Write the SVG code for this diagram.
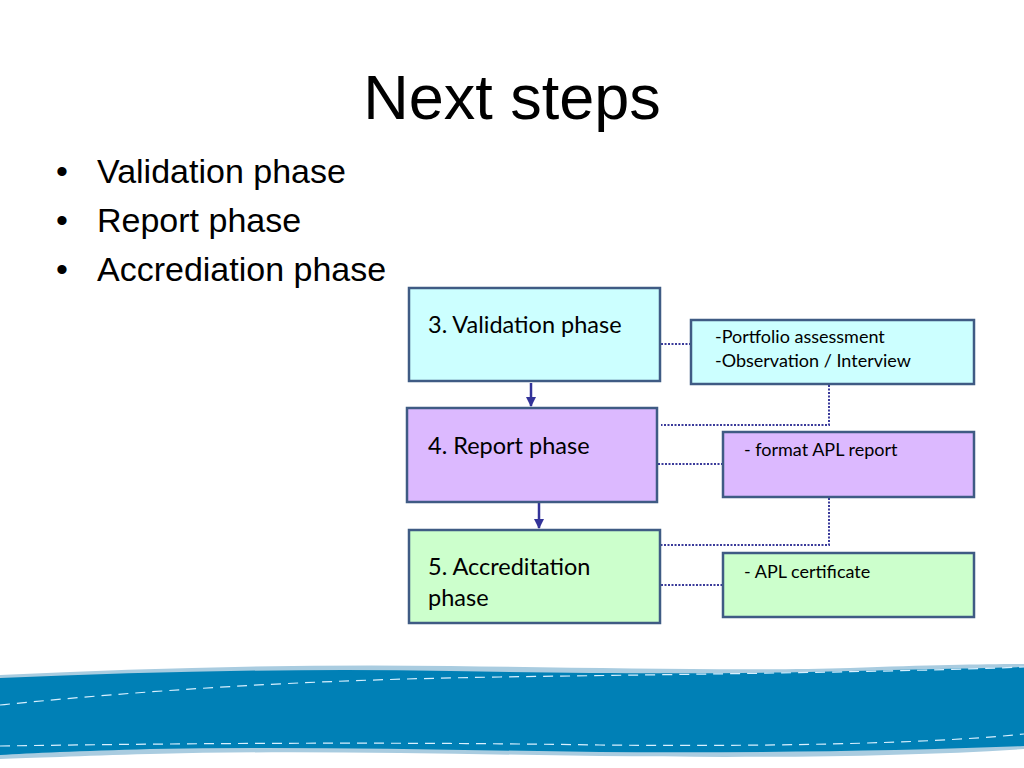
<svg xmlns="http://www.w3.org/2000/svg" width="1024" height="768" viewBox="0 0 1024 768">
<defs>
<style>
.box{stroke:#3f5b84;stroke-width:2.5}
.cy{fill:#ccffff}.pu{fill:#dcb9ff}.gr{fill:#ccffcc}
.dot{fill:none;stroke:#3a3a9a;stroke-width:2;stroke-dasharray:2 1.5}
.arr{fill:none;stroke:#333399;stroke-width:2.5}
.bt{font-family:"Liberation Sans",Arial,sans-serif;font-size:34px;fill:#000}
.nt{font-family:Lato,"Open Sans",sans-serif;font-size:23.5px;fill:#000}
.st{font-family:Lato,"Open Sans",sans-serif;font-size:18px;fill:#000}
.wd{fill:none;stroke:#d8f0ff;stroke-width:1.2;stroke-dasharray:10 7}
</style>
<marker id="ah" viewBox="0 0 10 10" refX="9" refY="5" markerWidth="4" markerHeight="4" orient="auto" markerUnits="strokeWidth">
<path d="M0,0 L10,5 L0,10 z" fill="#333399"/>
</marker>
</defs>
<rect width="1024" height="768" fill="#ffffff"/>
<g id="wave">
<path d="M0,675 C150,668 300,664 450,666 C600,668 750,671 850,668 C930,665 990,664 1024,664 L1024,749 C900,757 750,758 600,756 C450,754 300,750 150,754 C80,756 30,758 0,759 Z" fill="#a9cce0"/>
<path d="M0,678 C150,672 300,668 450,671 C600,674 750,674 850,671 C930,669 990,668 1024,667 L1024,746 C900,751 750,753 600,752 C450,750 300,746 150,749 C80,751 30,753 0,755 Z" fill="#0080b6"/>
<path class="wd" d="M0,705 C150,690 300,680 500,677 C700,674 900,672 1024,667"/>
<path class="wd" d="M0,746 C200,743 400,742 600,745 C800,747 950,742 1024,734"/>
</g>
<text x="512" y="119" text-anchor="middle" font-family="Liberation Sans,Arial,sans-serif" font-size="63" fill="#000">Next steps</text>
<g id="bullets" class="bt">
<text x="56" y="183">•</text><text x="97" y="183">Validation phase</text>
<text x="56" y="232">•</text><text x="97" y="232">Report phase</text>
<text x="56" y="281">•</text><text x="97" y="281">Accrediation phase</text>
</g>
<g id="connectors">
<line class="arr" x1="531" y1="383" x2="531" y2="406" marker-end="url(#ah)"/>
<line class="arr" x1="539" y1="503" x2="539" y2="528" marker-end="url(#ah)"/>
<path class="dot" d="M661,344 H691"/>
<path class="dot" d="M829,385 V425 H661"/>
<path class="dot" d="M658,464 H723"/>
<path class="dot" d="M829,498 V545 H661"/>
<path class="dot" d="M661,585 H723"/>
</g>
<g id="n3"><rect class="box cy" x="409" y="288" width="251" height="93"/><text class="nt" x="428" y="333">3. Validation phase</text></g>
<g id="n4"><rect class="box pu" x="407" y="408" width="250" height="94"/><text class="nt" x="428" y="454">4. Report phase</text></g>
<g id="n5"><rect class="box gr" x="409" y="530" width="251" height="93"/><text class="nt" x="428" y="575">5. Accreditation</text><text class="nt" x="428" y="606">phase</text></g>
<g id="d3"><rect class="box cy" x="691" y="320" width="283" height="64"/><text class="st" x="715" y="343">-Portfolio assessment</text><text class="st" x="715" y="367">-Observation / Interview</text></g>
<g id="d4"><rect class="box pu" x="723" y="432" width="251" height="65"/><text class="st" x="744" y="456">- format APL report</text></g>
<g id="d5"><rect class="box gr" x="723" y="553" width="251" height="64"/><text class="st" x="744" y="578">- APL certificate</text></g>
</svg>
